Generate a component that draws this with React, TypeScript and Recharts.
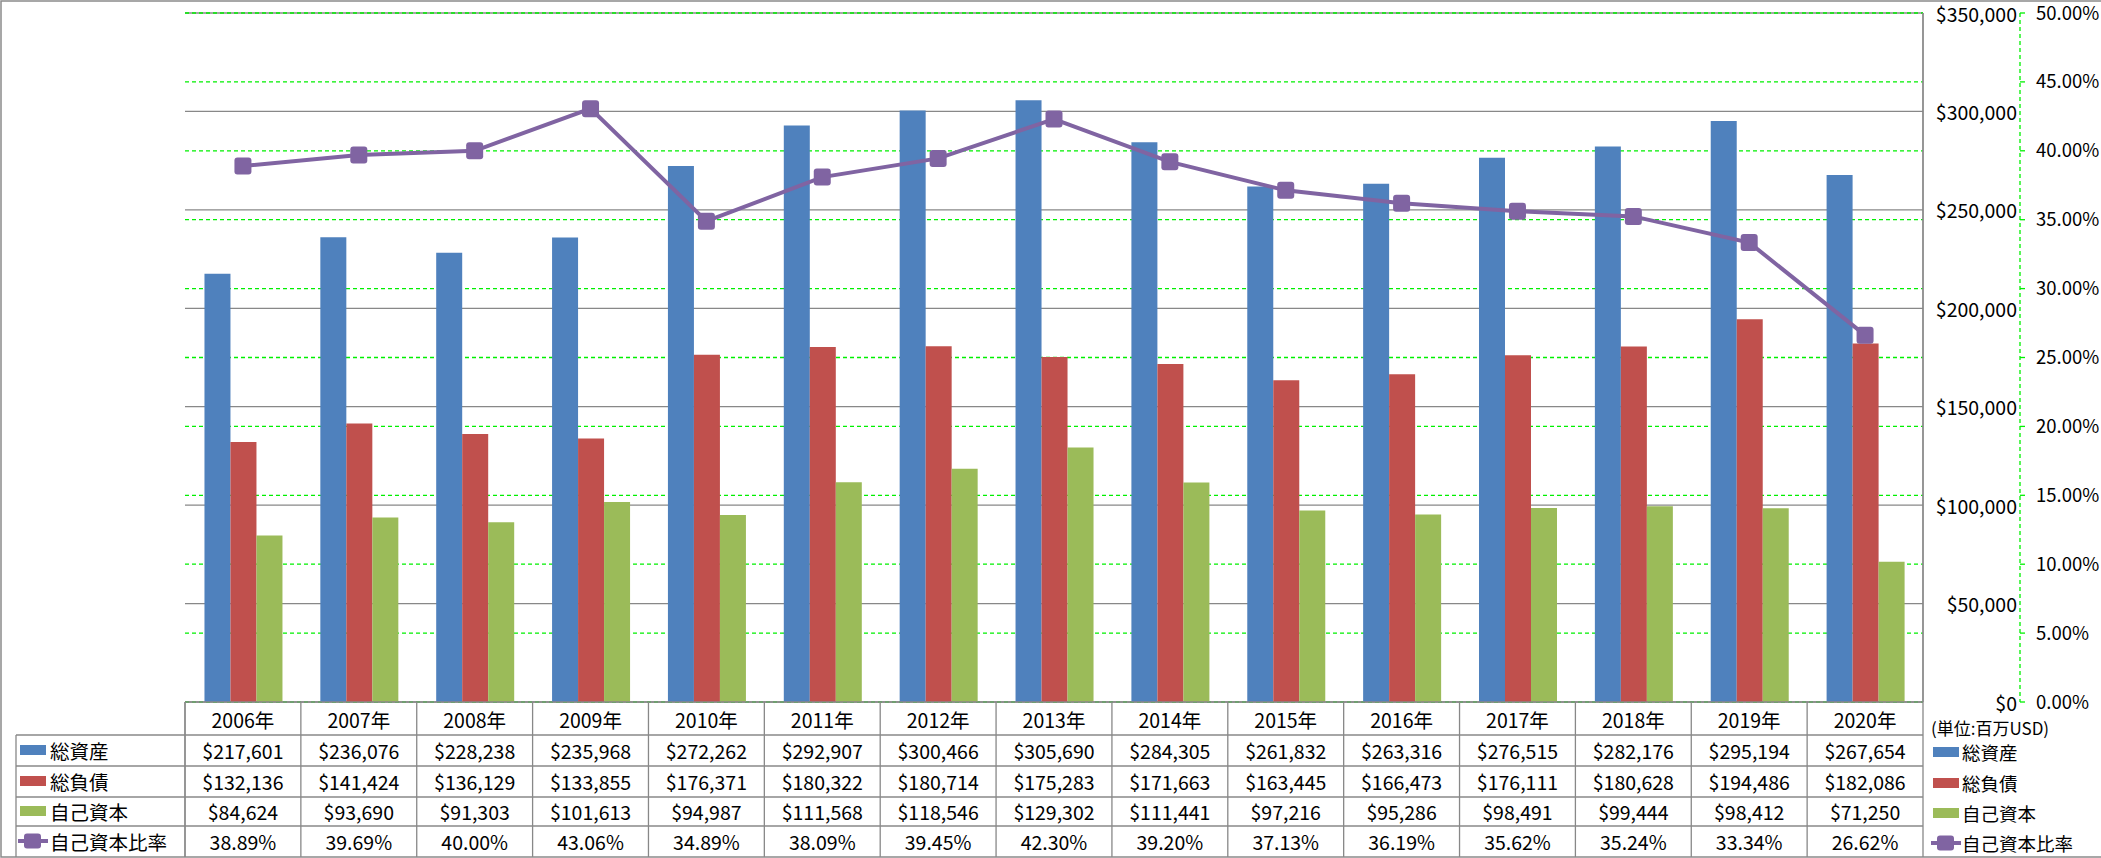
import React from "react";
import { Bar, CartesianGrid, ComposedChart, Line, XAxis, YAxis } from "recharts";

const years = ["2006年", "2007年", "2008年", "2009年", "2010年", "2011年", "2012年", "2013年", "2014年", "2015年", "2016年", "2017年", "2018年", "2019年", "2020年"];
const totalAssets = [217601, 236076, 228238, 235968, 272262, 292907, 300466, 305690, 284305, 261832, 263316, 276515, 282176, 295194, 267654];
const totalLiabilities = [132136, 141424, 136129, 133855, 176371, 180322, 180714, 175283, 171663, 163445, 166473, 176111, 180628, 194486, 182086];
const equity = [84624, 93690, 91303, 101613, 94987, 111568, 118546, 129302, 111441, 97216, 95286, 98491, 99444, 98412, 71250];
const equityRatio = [38.89, 39.69, 40.0, 43.06, 34.89, 38.09, 39.45, 42.3, 39.2, 37.13, 36.19, 35.62, 35.24, 33.34, 26.62];

const usdTicks = [0, 50000, 100000, 150000, 200000, 250000, 300000, 350000];
const pctTicks = [0, 5, 10, 15, 20, 25, 30, 35, 40, 45, 50];

const seriesNames = ["総資産", "総負債", "自己資本", "自己資本比率"];
const unitLabel = "(単位:百万USD)";

const BLUE = "#4F81BD";
const RED = "#C0504D";
const GREEN = "#9BBB59";
const PURPLE = "#8064A2";
const GRID = "#888888";
const DASH = "#00F000";
const FONT = "'Noto Sans CJK JP', 'Noto Sans', sans-serif";

const W = 2101;
const H = 858;
const PLOT_L = 185;
const PLOT_R = 1923;
const PLOT_T = 13;
const PLOT_B = 702;
const USD_W = 97;
const TABLE_L = 16;
const TABLE_B = 857;
const rowLines = [735, 766, 797, 826];
const rowCenters = [750, 781, 811, 841];
const HEADER_Y = 719;
const NUM_SIZE = 19.5;

const data = years.map((year, i) => ({
  year,
  assets: totalAssets[i],
  liabilities: totalLiabilities[i],
  equity: equity[i],
  ratio: equityRatio[i],
}));

const fmtUsd = (v: number) => "$" + v.toLocaleString("en-US");
const fmtPct = (v: number) => v.toFixed(2) + "%";

const colHalf = (PLOT_R - PLOT_L) / years.length / 2;

function TableColumn(props: any) {
  const { x, payload } = props;
  const i = payload?.index ?? props.index ?? years.indexOf(payload?.value);
  const cells = [fmtUsd(totalAssets[i]), fmtUsd(totalLiabilities[i]), fmtUsd(equity[i]), fmtPct(equityRatio[i])];
  return (
    <g>
      <line x1={x - colHalf} x2={x - colHalf} y1={PLOT_B} y2={TABLE_B} stroke={GRID} strokeWidth={1.3} />
      <text x={x} y={HEADER_Y} textAnchor="middle" dominantBaseline="central" fontSize={NUM_SIZE} fill="#000" fontFamily={FONT}>
        {payload.value}
      </text>
      {cells.map((c, r) => (
        <text key={r} x={x} y={rowCenters[r]} textAnchor="middle" dominantBaseline="central" fontSize={NUM_SIZE} fill="#000" fontFamily={FONT}>
          {c}
        </text>
      ))}
    </g>
  );
}

function UsdTick(props: any) {
  const { x, y, payload } = props;
  return (
    <text x={x + USD_W - 3} y={y} textAnchor="end" dominantBaseline="central" fontSize={NUM_SIZE} fill="#000" fontFamily={FONT}>
      {fmtUsd(payload.value)}
    </text>
  );
}

function RatioDot(props: any) {
  const { cx, cy, index } = props;
  if (cx == null || cy == null) return <g key={index} />;
  return <rect key={index} x={cx - 8.5} y={cy - 8.5} width={17} height={17} rx={3} fill={PURPLE} />;
}

function LegendKey({ x, y, kind }: { x: number; y: number; kind: number }) {
  if (kind < 3) {
    const color = [BLUE, RED, GREEN][kind];
    return <rect x={x} y={y - 5} width={26} height={10} fill={color} />;
  }
  return (
    <g>
      <line x1={x - 2} x2={x + 28} y1={y} y2={y} stroke={PURPLE} strokeWidth={4} />
      <rect x={x + 4} y={y - 7.5} width={17} height={15} rx={3} fill={PURPLE} />
    </g>
  );
}

export default function App() {
  return (
    <div style={{ position: "absolute", left: 0, top: 0, width: W, height: H, background: "#fff", overflow: "hidden" }}>
      <ComposedChart
        width={W}
        height={H}
        data={data}
        margin={{ top: PLOT_T, right: 0, bottom: 0, left: PLOT_L }}
        barCategoryGap="16.8%"
        barGap={0}
        style={{ fontFamily: FONT }}
      >
        <CartesianGrid yAxisId="a_usd" vertical={false} stroke={GRID} strokeWidth={1.3} />
        <CartesianGrid yAxisId="b_pct" vertical={false} stroke={DASH} strokeWidth={1.3} strokeDasharray="4 3" />
        <XAxis
          dataKey="year"
          height={H - PLOT_B}
          axisLine={false}
          tickLine={false}
          interval={0}
          tick={<TableColumn />}
        />
        <YAxis
          yAxisId="b_pct"
          orientation="right"
          domain={[0, 50]}
          ticks={pctTicks}
          width={W - PLOT_R - USD_W}
          axisLine={{ stroke: DASH, strokeWidth: 1.3, strokeDasharray: "4 3" }}
          tickLine={{ stroke: DASH, strokeWidth: 1.3 }}
          tickSize={5}
          tickMargin={11}
          tickFormatter={(v: number) => fmtPct(v)}
          tick={{ fontSize: 18.5, fill: "#000", fontFamily: FONT }}
        />
        <YAxis
          yAxisId="a_usd"
          orientation="right"
          domain={[0, 350000]}
          ticks={usdTicks}
          width={USD_W}
          axisLine={{ stroke: GRID, strokeWidth: 1.3 }}
          tickLine={false}
          tickSize={0}
          tickMargin={0}
          tick={<UsdTick />}
        />
        <Bar yAxisId="a_usd" dataKey="assets" fill={BLUE} isAnimationActive={false} />
        <Bar yAxisId="a_usd" dataKey="liabilities" fill={RED} isAnimationActive={false} />
        <Bar yAxisId="a_usd" dataKey="equity" fill={GREEN} isAnimationActive={false} />
        <Line
          yAxisId="b_pct"
          dataKey="ratio"
          stroke={PURPLE}
          strokeWidth={4}
          dot={RatioDot}
          activeDot={false}
          isAnimationActive={false}
        />
      </ComposedChart>
      <svg width={W} height={H} style={{ position: "absolute", left: 0, top: 0, pointerEvents: "none" }} fontFamily={FONT}>
        <rect x={1} y={1} width={W + 10} height={TABLE_B - 1} fill="none" stroke="#8a8a8a" strokeWidth={1.5} />
        <line x1={PLOT_L} x2={PLOT_R} y1={PLOT_B} y2={PLOT_B} stroke={GRID} strokeWidth={1.3} />
        {rowLines.map((y) => (
          <line key={y} x1={TABLE_L} x2={PLOT_R} y1={y} y2={y} stroke={GRID} strokeWidth={1.3} />
        ))}
        <line x1={TABLE_L} x2={TABLE_L} y1={rowLines[0]} y2={TABLE_B} stroke={GRID} strokeWidth={1.3} />
        <line x1={PLOT_L} x2={PLOT_L} y1={PLOT_B} y2={TABLE_B} stroke={GRID} strokeWidth={1.3} />
        <line x1={PLOT_R} x2={PLOT_R} y1={PLOT_T} y2={TABLE_B} stroke={GRID} strokeWidth={1.3} />
        {seriesNames.map((name, r) => (
          <g key={name}>
            <LegendKey x={20} y={rowCenters[r]} kind={r} />
            <text x={50} y={rowCenters[r]} dominantBaseline="central" fontSize={19.5} fill="#000">
              {name}
            </text>
            <LegendKey x={1933} y={rowCenters[r] + 2} kind={r} />
            <text x={1962} y={rowCenters[r] + 2} dominantBaseline="central" fontSize={18.5} fill="#000">
              {name}
            </text>
          </g>
        ))}
        <text x={1931} y={727} dominantBaseline="central" fontSize={17} fill="#000">
          {unitLabel}
        </text>
      </svg>
    </div>
  );
}
